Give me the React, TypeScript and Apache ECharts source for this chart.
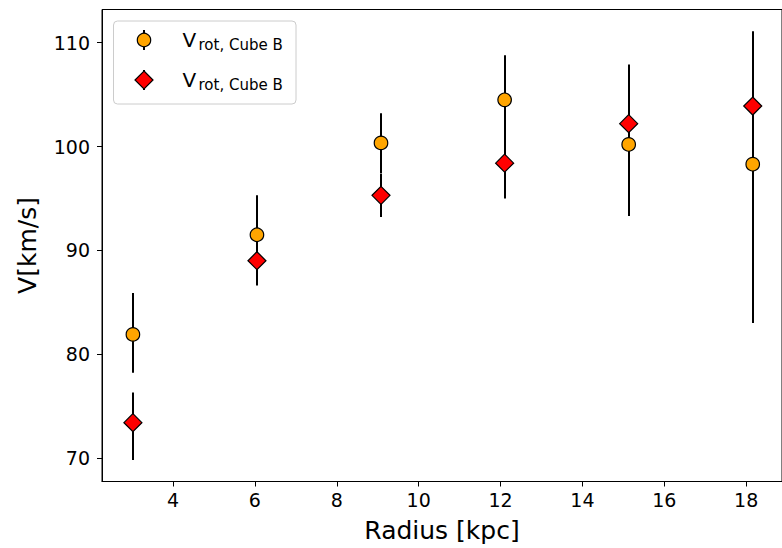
import React, { useEffect, useRef } from "react";
import * as echarts from "echarts";

// Data
const radius = [3.02, 6.05, 9.08, 12.1, 15.13, 18.16];
const vCircle = [81.9, 91.5, 100.35, 104.5, 100.2, 98.3];
const circleLow = [78.2, 87.7, 97.45, 100.2, 93.3, 83.0];
const circleHigh = [85.9, 95.3, 103.2, 108.8, 107.1, 108.0];
const vDiamond = [73.4, 89.0, 95.3, 98.4, 102.2, 103.9];
const diamondLow = [69.8, 86.6, 93.2, 95.0, 96.5, 96.6];
const diamondHigh = [76.3, 91.4, 97.4, 101.8, 107.9, 111.1];
const xTicks = [4, 6, 8, 10, 12, 14, 16, 18];
const yTicks = [70, 80, 90, 100, 110];
const xTitle = "Radius [kpc]";
const yTitle = "V[km/s]";
const legendMain = "V";
const legendSub = "rot, Cube B";

const FONT = "DejaVu Sans";

export default function App() {
  const ref = useRef<HTMLDivElement>(null);
  useEffect(() => {
    if (!ref.current) return;
    const chart = echarts.init(ref.current, undefined, { renderer: "svg" });

    const errRender = (params: any, api: any) => {
      const x = api.value(0);
      const p1 = api.coord([x, api.value(1)]);
      const p2 = api.coord([x, api.value(2)]);
      const px = Math.round(p1[0]);
      return {
        type: "line",
        shape: { x1: px, y1: p1[1], x2: px, y2: p2[1] },
        style: { stroke: "#000", lineWidth: 2 },
      };
    };

    const legendRow = (cy: number, marker: any) => [
      {
        type: "line",
        shape: { x1: 144, y1: cy - 10, x2: 144, y2: cy + 10 },
        style: { stroke: "#000", lineWidth: 2 },
        z: 101,
      },
      marker,
      {
        type: "text",
        x: 182.5,
        y: cy - 0.5,
        style: {
          text: legendMain,
          font: `20px '${FONT}'`,
          fill: "#000",
          verticalAlign: "middle",
          align: "left",
        },
        z: 102,
      },
      {
        type: "text",
        x: 198.5,
        y: cy + 5,
        style: {
          text: legendSub,
          font: `15px '${FONT}'`,
          fill: "#000",
          verticalAlign: "middle",
          align: "left",
        },
        z: 102,
      },
    ];

    chart.setOption({
      animation: false,
      grid: {
        left: 102,
        top: 9.5,
        width: 681,
        height: 473,
        show: true,
        borderColor: "#000",
        borderWidth: 1,
        backgroundColor: "transparent",
      },
      xAxis: {
        type: "value",
        min: 2.265,
        max: 18.875,
        name: xTitle,
        nameLocation: "middle",
        nameGap: 49,
        nameTextStyle: {
          fontFamily: FONT,
          fontSize: 25,
          color: "#000",
          verticalAlign: "middle",
        },
        axisLine: { show: true, lineStyle: { color: "#000", width: 1 } },
        axisTick: {
          show: true,
          inside: false,
          length: 5,
          lineStyle: { color: "#000", width: 1 },
          customValues: xTicks,
        },
        axisLabel: {
          fontFamily: FONT,
          fontSize: 19,
          color: "#000",
          margin: 9,
          customValues: xTicks,
        },
        splitLine: { show: false },
      },
      yAxis: {
        type: "value",
        min: 67.73,
        max: 113.2,
        name: yTitle,
        nameLocation: "middle",
        nameGap: 75,
        nameRotate: 90,
        nameTextStyle: {
          fontFamily: FONT,
          fontSize: 25,
          color: "#000",
          verticalAlign: "middle",
        },
        axisLine: { show: true, lineStyle: { color: "#000", width: 1 } },
        axisTick: {
          show: true,
          inside: false,
          length: 5,
          lineStyle: { color: "#000", width: 1 },
          customValues: yTicks,
        },
        axisLabel: {
          fontFamily: FONT,
          fontSize: 19,
          color: "#000",
          margin: 12,
          customValues: yTicks,
        },
        splitLine: { show: false },
      },
      series: [
        {
          type: "custom",
          name: "circleErr",
          renderItem: errRender,
          data: radius.map((r, i) => [r, circleLow[i], circleHigh[i]]),
          encode: { x: 0, y: [1, 2] },
          z: 1,
          silent: true,
        },
        {
          type: "custom",
          name: "diamondErr",
          renderItem: errRender,
          data: radius.map((r, i) => [r, diamondLow[i], diamondHigh[i]]),
          encode: { x: 0, y: [1, 2] },
          z: 1,
          silent: true,
        },
        {
          type: "scatter",
          name: "circle",
          data: radius.map((r, i) => [r, vCircle[i]]),
          symbol: "circle",
          symbolSize: 13.5,
          itemStyle: { color: "#FFA500", borderColor: "#000", borderWidth: 1.2, opacity: 1 },
          z: 3,
        },
        {
          type: "scatter",
          name: "diamond",
          data: radius.map((r, i) => [r, vDiamond[i]]),
          symbol: "diamond",
          symbolSize: 18,
          itemStyle: { color: "#FF0000", borderColor: "#000", borderWidth: 1.2, opacity: 1 },
          z: 4,
        },
      ],
      graphic: [
        {
          type: "rect",
          shape: { x: 113.5, y: 21, width: 182.5, height: 83, r: 4 },
          style: { fill: "rgba(255,255,255,0.8)", stroke: "#cccccc", lineWidth: 1 },
          z: 100,
        },
        ...legendRow(40, {
          type: "circle",
          shape: { cx: 144, cy: 40, r: 6.7 },
          style: { fill: "#FFA500", stroke: "#000", lineWidth: 1.2 },
          z: 102,
        }),
        ...legendRow(80, {
          type: "polygon",
          shape: {
            points: [
              [144, 71],
              [153, 80],
              [144, 89],
              [135, 80],
            ],
          },
          style: { fill: "#FF0000", stroke: "#000", lineWidth: 1.2 },
          z: 102,
        }),
      ],
    });
    return () => chart.dispose();
  }, []);
  return (
    <div
      ref={ref}
      style={{ position: "fixed", left: 0, top: 0, width: 782, height: 548, background: "#fff" }}
    />
  );
}
